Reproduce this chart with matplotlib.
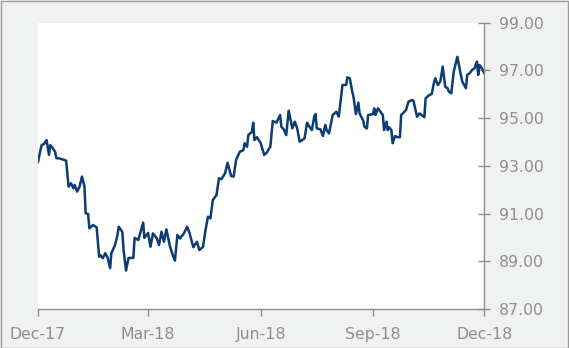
import numpy as np
import matplotlib
matplotlib.use("Agg")
import matplotlib.pyplot as plt
import matplotlib.dates as mdates

# price series: day offset from 1 Dec 2017 and level
start = np.datetime64("2017-12-01")
days = [0, 2, 3, 5, 7, 9, 10, 12, 14, 15, 17, 20, 23, 25, 27, 29, 30, 32, 34, 36,
        38, 39, 41, 42, 45, 48, 50, 51, 53, 55, 57, 59, 60, 63, 65, 66, 69, 70, 72, 74,
        78, 79, 82, 86, 87, 90, 92, 94, 97, 99, 101, 103, 105, 108, 111, 112, 114, 116, 119, 122,
        124, 127, 130, 132, 135, 137, 139, 141, 143, 146, 148, 150, 153, 155, 158, 160, 162, 165, 168, 169,
        171, 172, 175, 176, 177, 179, 182, 185, 187, 190, 192, 195, 198, 199, 201, 203, 205, 208, 210, 212,
        214, 218, 220, 222, 224, 226, 227, 228, 231, 233, 235, 236, 238, 241, 244, 246, 249, 252, 253, 255,
        257, 258, 260, 262, 263, 266, 267, 269, 270, 274, 275, 276, 278, 280, 282, 283, 285, 286, 287, 289,
        290, 292, 294, 296, 297, 301, 303, 306, 307, 310, 312, 316, 317, 320, 322, 324, 325, 327, 329, 331,
        333, 335, 336, 338, 340, 343, 345, 347, 350, 351, 353, 355, 357, 359, 360, 361, 363, 365]
values = [93.17, 93.66, 93.87, 93.92, 94.08, 93.46, 93.87, 93.74, 93.59, 93.32, 93.32, 93.27, 93.22, 92.13, 92.27, 92.06, 92.20, 91.92, 92.13, 92.55,
          92.13, 91.01, 90.98, 90.38, 90.52, 90.42, 89.19, 89.26, 89.13, 89.34, 89.15, 88.71, 89.34, 89.68, 90.10, 90.45, 90.23, 89.47, 88.61, 89.14,
          89.14, 89.98, 89.89, 90.62, 89.98, 90.19, 89.61, 90.17, 89.98, 89.68, 90.24, 89.82, 90.34, 89.61, 89.14, 89.03, 90.10, 89.96, 90.14, 90.45,
          90.17, 89.59, 89.82, 89.47, 89.61, 90.31, 90.87, 90.80, 91.57, 91.78, 92.48, 92.44, 92.69, 93.13, 92.57, 92.55, 93.25, 93.59, 93.66, 93.95,
          93.80, 94.29, 94.43, 94.81, 94.08, 94.20, 93.97, 93.46, 93.55, 93.80, 94.88, 94.81, 95.13, 94.64, 94.53, 94.29, 95.31, 94.57, 94.85, 94.57,
          94.01, 94.15, 94.81, 94.64, 94.50, 95.09, 95.17, 94.57, 94.53, 94.25, 94.71, 94.50, 94.36, 95.13, 95.27, 95.06, 96.39, 96.39, 96.71, 96.67,
          96.11, 95.90, 95.17, 95.65, 95.20, 94.89, 94.64, 94.57, 95.13, 95.17, 95.41, 95.13, 95.41, 95.27, 95.13, 94.50, 94.85, 94.50, 94.62, 94.50,
          93.95, 94.25, 94.20, 94.20, 95.13, 95.34, 95.69, 95.76, 95.73, 95.06, 95.20, 95.04, 95.83, 95.97, 96.01, 96.53, 96.67, 96.39, 96.53, 97.16,
          96.32, 96.25, 96.11, 96.04, 96.95, 97.57, 97.02, 96.53, 96.25, 96.81, 96.88, 97.02, 97.09, 97.37, 96.81, 97.23, 97.09, 96.88]

tick_dates = ["2017-12-01", "2018-03-01", "2018-06-01", "2018-09-01", "2018-12-01"]
y_ticks = [87, 89, 91, 93, 95, 97, 99]

dates = start + np.array(days).astype("timedelta64[D]")

grey = "#8e8e8e"
bg = "#f0f2f1"

fig = plt.figure(figsize=(5.69, 3.48), dpi=100, facecolor=bg)
ax = fig.add_axes([38 / 569, 39 / 348, 446.3 / 569, 286.3 / 348])
ax.set_facecolor("white")

ax.plot(dates, values, color="#0b3c72", linewidth=1.8)

ax.set_xlim(np.datetime64(tick_dates[0]), np.datetime64(tick_dates[-1]))
ax.set_ylim(87, 99)
ax.set_xticks([np.datetime64(d) for d in tick_dates])
ax.xaxis.set_major_formatter(mdates.DateFormatter("%b-%y"))
ax.set_yticks(y_ticks)
ax.set_yticklabels(["%.2f" % t for t in y_ticks])
ax.yaxis.tick_right()

for s in ["top", "left"]:
    ax.spines[s].set_visible(False)
for s in ["bottom", "right"]:
    ax.spines[s].set_color(grey)
    ax.spines[s].set_linewidth(1.0)

ax.tick_params(axis="x", direction="out", length=5, width=1, color=grey,
               labelcolor=grey, labelsize=11.3, pad=8)
ax.tick_params(axis="y", direction="inout", length=9, width=1, color=grey,
               labelcolor=grey, labelsize=11.3, pad=6)

# thin frame round the whole picture
fig.patches.append(plt.Rectangle((0.5 / 569, 0.5 / 348), 567.5 / 569, 346.5 / 348,
                                 transform=fig.transFigure, fill=False,
                                 edgecolor="#9a9a9a", linewidth=1.0))

fig.savefig("out.png", dpi=100, facecolor=bg)
